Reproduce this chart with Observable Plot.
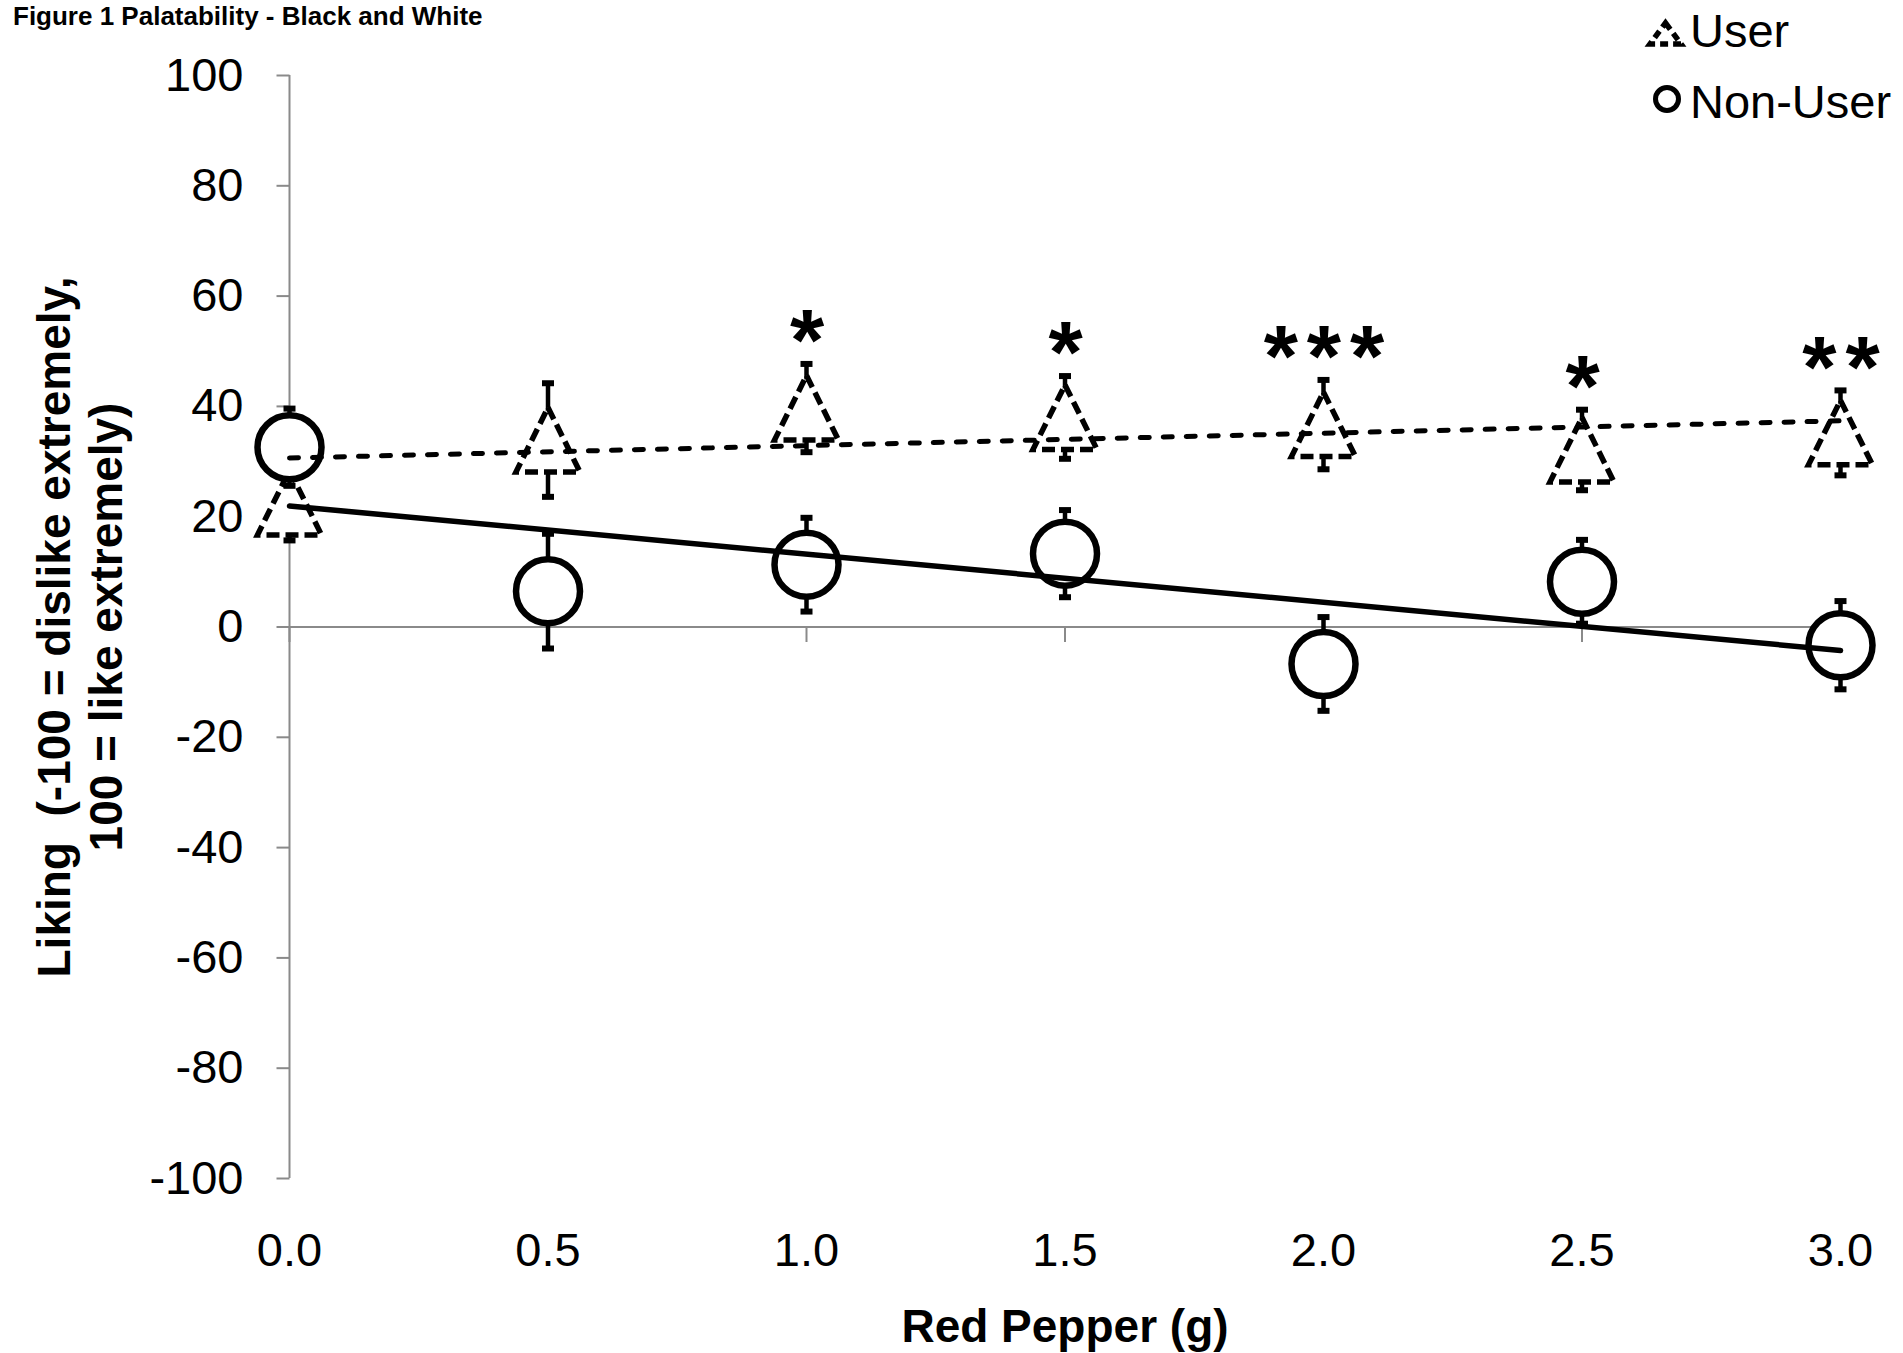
<!DOCTYPE html>
<html>
<head>
<meta charset="utf-8">
<script src="https://cdn.jsdelivr.net/npm/d3@7"></script>
<script src="https://cdn.jsdelivr.net/npm/@observablehq/plot@0.6"></script>
<style>
  html, body { margin: 0; padding: 0; background: #fff; }
  body { font-family: "Liberation Sans", Arial, sans-serif; color: #000; }
  #wrap { position: relative; width: 1903px; height: 1353px; overflow: hidden; background: #fff; }
  #chart { position: absolute; left: 0; top: 0; }
  #title { position: absolute; left: 13px; top: 1px; font-weight: bold; font-size: 26px; line-height: normal; white-space: nowrap; }
  .legtext { position: absolute; left: 1690px; font-size: 47px; line-height: 1; white-space: nowrap; }
  #legicons { position: absolute; left: 0; top: 0; }
</style>
</head>
<body>
<div id="wrap">
  <div id="chart"></div>
  <div id="title">Figure 1 Palatability - Black and White</div>
  <svg id="legicons" width="1903" height="140"></svg>
  <div class="legtext" id="leg0" style="top:7px"></div>
  <div class="legtext" id="leg1" style="top:78px"></div>
</div>
<script>
// ---- data ----
const doses = [0.0, 0.5, 1.0, 1.5, 2.0, 2.5, 3.0];
const userMean = [22.5, 33.9, 39.7, 38.0, 36.7, 32.1, 35.2];
const userSE = [6.8, 10.3, 8.0, 7.5, 8.1, 7.3, 7.7];
const nonUserMean = [32.6, 6.5, 11.3, 13.3, -6.7, 8.2, -3.3];
const nonUserSE = [7.0, 10.4, 8.5, 7.9, 8.5, 7.6, 8.0];
const stars = ["", "", "*", "*", "***", "*", "**"];
const seriesNames = ["User", "Non-User"];
const xTicks = [0, 0.5, 1, 1.5, 2, 2.5, 3];
const yTicks = [-100, -80, -60, -40, -20, 0, 20, 40, 60, 80, 100];
const xLabel = "Red Pepper (g)";
const yLabel = "Liking  (-100 = dislike extremely,\n100 = like extremely)";

const rows = doses.map((d, i) => ({
  dose: d, user: userMean[i], userSE: userSE[i],
  non: nonUserMean[i], nonSE: nonUserSE[i], star: stars[i]
}));

const axisGray = "#8a8a8a";
// custom symbols
const triSym = { draw(ctx) { ctx.moveTo(0, -32.5); ctx.lineTo(32, 32); ctx.lineTo(-32, 32); ctx.closePath(); } };
const capSym = { draw(ctx) { ctx.moveTo(-6, 0); ctx.lineTo(6, 0); } };
const hTick = { draw(ctx) { ctx.moveTo(-13, 0); ctx.lineTo(0, 0); } };
const vTick = { draw(ctx) { ctx.moveTo(0, 0); ctx.lineTo(0, 15); } };

const chart = Plot.plot({
  width: 1903, height: 1353,
  marginLeft: 289, marginRight: 63, marginTop: 75, marginBottom: 175,
  x: { domain: [0, 3] },
  y: { domain: [-100, 100] },
  style: { fontFamily: '"Liberation Sans", Arial, sans-serif', fontSize: "47px", background: "transparent", color: "black", overflow: "visible" },
  marks: [
    // axes
    Plot.ruleX([0], { stroke: axisGray, strokeWidth: 2 }),
    Plot.dot(yTicks, { y: d => d, frameAnchor: "left", symbol: hTick, stroke: axisGray, strokeWidth: 2 }),
    Plot.axisY(yTicks, { anchor: "left", tickSize: 0, tickPadding: 46, label: null, tickFormat: d => String(d) }),
    Plot.ruleY([0], { stroke: axisGray, strokeWidth: 2 }),
    Plot.dot(xTicks, { x: d => d, y: () => 0, symbol: vTick, stroke: axisGray, strokeWidth: 2 }),
    Plot.axisX(xTicks, { anchor: "bottom", tickSize: 0, tickPadding: 54, label: null, tickFormat: d => d.toFixed(1) }),
    Plot.text([xLabel], { frameAnchor: "bottom", dy: 163, fontWeight: "bold", fontSize: 46 }),
    Plot.text([yLabel], { frameAnchor: "left", dx: -210, rotate: -90, fontWeight: "bold", fontSize: 46, lineHeight: 1.13, textAnchor: "middle" }),
    // User series
    Plot.ruleX(rows, { x: "dose", y1: d => d.user - d.userSE, y2: d => d.user + d.userSE, stroke: "black", strokeWidth: 4.5 }),
    Plot.dot(rows, { x: "dose", y: d => d.user + d.userSE, symbol: capSym, stroke: "black", strokeWidth: 6 }),
    Plot.dot(rows, { x: "dose", y: d => d.user - d.userSE, symbol: capSym, stroke: "black", strokeWidth: 6 }),
    Plot.dot(rows, { x: "dose", y: "user", symbol: triSym, fill: "white", stroke: "black", strokeWidth: 5.5, strokeDasharray: "13,6" }),
    // Non-User series
    Plot.ruleX(rows, { x: "dose", y1: d => d.non - d.nonSE, y2: d => d.non + d.nonSE, stroke: "black", strokeWidth: 4.5 }),
    Plot.dot(rows, { x: "dose", y: d => d.non + d.nonSE, symbol: capSym, stroke: "black", strokeWidth: 6 }),
    Plot.dot(rows, { x: "dose", y: d => d.non - d.nonSE, symbol: capSym, stroke: "black", strokeWidth: 6 }),
    Plot.dot(rows, { x: "dose", y: "non", r: 32, fill: "white", stroke: "black", strokeWidth: 6.5 }),
    // trend lines
    Plot.linearRegressionY(rows, { x: "dose", y: "user", ci: 0, stroke: "black", strokeWidth: 5, strokeDasharray: "9,14", strokeLinecap: "round" }),
    Plot.linearRegressionY(rows, { x: "dose", y: "non", ci: 0, stroke: "black", strokeWidth: 5.5 }),
    // significance stars
    Plot.text(rows.filter(d => d.star), { x: "dose", y: d => d.user + d.userSE, text: "star", fontSize: 88, fontWeight: "bold", dy: -22, dx: 5 })
  ]
});
document.getElementById("chart").appendChild(chart);
// spacing of the asterisks
d3.select(chart).selectAll("text").filter(function () { return /^\*+$/.test(this.textContent); })
  .style("letter-spacing", "9px");

// legend
document.getElementById("leg0").textContent = seriesNames[0];
document.getElementById("leg1").textContent = seriesNames[1];
const leg = d3.select("#legicons");
leg.append("path").attr("d", "M1665.5,23 L1681,44 L1650,44 Z")
  .attr("fill", "white").attr("stroke", "black").attr("stroke-width", 5.5).attr("stroke-dasharray", "8,5");
leg.append("circle").attr("cx", 1667).attr("cy", 99).attr("r", 11.5)
  .attr("fill", "white").attr("stroke", "black").attr("stroke-width", 5);
</script>
</body>
</html>
